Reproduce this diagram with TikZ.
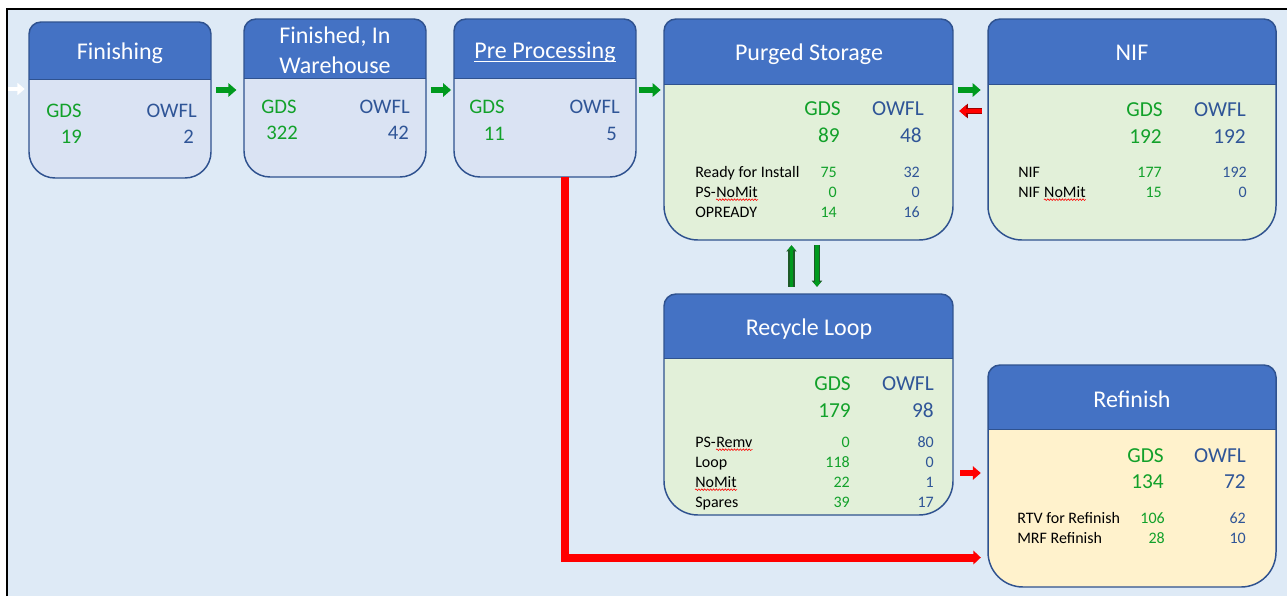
\documentclass[tikz,border=0pt]{standalone}
\usepackage{fontspec}
\setmainfont{Carlito}
\usetikzlibrary{arrows.meta,decorations.pathmorphing,fit,calc}

\definecolor{pagebg}{HTML}{DEEAF6}
\definecolor{hdr}{HTML}{4472C4}
\definecolor{edge}{HTML}{2F528F}
\definecolor{bodyblue}{HTML}{DAE3F3}
\definecolor{bodygreen}{HTML}{E2F0D9}
\definecolor{bodyyellow}{HTML}{FFF2CC}
\definecolor{gdsgreen}{HTML}{12A12A}
\definecolor{owflblue}{HTML}{2F5597}
\definecolor{flowgreen}{HTML}{009A1E}
\definecolor{flowgreendark}{HTML}{1E5A28}
\definecolor{flowred}{HTML}{FF0000}
\definecolor{flowreddark}{HTML}{A00000}

% A status box: #1 name, #2 left, #3 top, #4 right, #5 bottom,
% #6 bottom of the header band, #7 top radius, #8 bottom radius, #9 body fill.
% Values are pixels, y measured downwards.
\newcommand\statbox[9]{%
  \def\boxoutline{(#2,{-#3-#7}) -- (#2,{-#5+#8})
    arc[start angle=180,end angle=270,radius=#8] -- ({#4-#8},-#5)
    arc[start angle=270,end angle=360,radius=#8] -- (#4,{-#3-#7})
    arc[start angle=0,end angle=90,radius=#7] -- ({#2+#7},-#3)
    arc[start angle=90,end angle=180,radius=#7] -- cycle}%
  \fill[#9] \boxoutline;
  \begin{scope}
    \clip \boxoutline;
    \fill[hdr] (#2,-#3) rectangle (#4,-#6);
  \end{scope}
  \draw[edge, line width=0.6pt] (#2,-#6) -- (#4,-#6);
  \draw[edge, line width=1.1pt] \boxoutline;
  \node[fit={(#2,-#3)(#4,-#5)}, inner sep=0pt] (#1) {};
}

\tikzset{
  ttl/.style={text=white, font=\fontsize{18}{21}\selectfont, anchor=base, inner sep=0pt},
  hdsmall/.style={font=\fontsize{15.5}{18}\selectfont, inner sep=0pt},
  hdbig/.style={font=\fontsize{16}{19}\selectfont, inner sep=0pt},
  gcol/.style={text=gdsgreen},
  ocol/.style={text=owflblue},
  rowlabel/.style={font=\fontsize{12}{14}\selectfont, inner sep=0pt, anchor=base west, text=black},
  rowg/.style={font=\fontsize{12}{14}\selectfont, inner sep=0pt, anchor=base east, text=gdsgreen},
  rowo/.style={font=\fontsize{12}{14}\selectfont, inner sep=0pt, anchor=base east, text=owflblue},
  squig/.style={draw=red, line width=0.45pt, decorate,
    decoration={snake, amplitude=0.6pt, segment length=2.2pt}},
  blockarrow/.style={line width=3.9pt, -{Triangle[length=6pt,width=10pt]}},
  garrow/.style={blockarrow, draw=flowgreen},
  rarrow/.style={blockarrow, draw=flowred},
  rarrowout/.style={draw=flowred, line width=3.4pt, -{Triangle[length=5.2pt,width=8.4pt]},
    preaction={draw=flowreddark, line width=5pt, -{Triangle[length=6.4pt,width=10.5pt]}}},
  warrow/.style={draw=white, line width=3.6pt, -{Triangle[length=5.5pt,width=9pt]}},
  varrow/.style={draw=flowgreen, line width=2.8pt, -{Triangle[length=3.6pt,width=5.6pt]},
    preaction={draw=flowgreendark, line width=4.6pt, -{Triangle[length=4.6pt,width=7.6pt]}}},
  bigred/.style={draw=flowred, line width=6pt, line join=miter,
    -{Triangle[length=5.5pt,width=10pt]}},
}

\begin{document}
\begin{tikzpicture}[x=0.75pt, y=0.75pt]
  % page, backdrop and frame
  \useasboundingbox (0,0) rectangle (1287,-596);
  \fill[white] (0,0) rectangle (1287,-596);
  \fill[pagebg] (7,-9) rectangle (1287,-596);
  \draw[black, line width=2.2pt] (7,-596) -- (7,-9) -- (1287,-9);

  % boxes
  \statbox{fin}{29}{22}{211}{178}{79}{12}{26}{bodyblue}
  \statbox{wh}{244}{19}{426}{177}{78}{12}{26}{bodyblue}
  \statbox{pp}{454}{19}{636}{177}{78}{12}{26}{bodyblue}
  \statbox{ps}{664}{19}{953}{240}{84}{12}{34}{bodygreen}
  \statbox{nif}{988}{19}{1276}{240}{84}{12}{34}{bodygreen}
  \statbox{rl}{664}{294}{953}{515}{358}{12}{34}{bodygreen}
  \statbox{ref}{988}{365}{1276}{587}{429}{12}{35}{bodyyellow}

  % Finishing
  \node[ttl] (fin-t) at (120,-59) {Finishing};
  \node[hdsmall, gcol, anchor=base west] (fin-g) at (46,-117) {GDS};
  \node[hdsmall, ocol, anchor=base east] (fin-o) at (197,-117) {OWFL};
  \node[hdsmall, gcol, anchor=base east] (fin-gn) at (82,-143) {19};
  \node[hdsmall, ocol, anchor=base east] (fin-on) at (194,-143) {2};

  % Finished, In Warehouse
  \node[ttl] (wh-t1) at (335,-43) {Finished, In};
  \node[ttl] (wh-t2) at (335,-73) {Warehouse};
  \node[hdsmall, gcol, anchor=base west] (wh-g) at (261,-113) {GDS};
  \node[hdsmall, ocol, anchor=base east] (wh-o) at (410,-113) {OWFL};
  \node[hdsmall, gcol, anchor=base east] (wh-gn) at (298,-139) {322};
  \node[hdsmall, ocol, anchor=base east] (wh-on) at (409,-139) {42};

  % Pre Processing
  \node[ttl] (pp-t) at (545,-58) {Pre Processing};
  \draw[white, line width=1.1pt] ([yshift=-2.6pt]pp-t.base west) -- ([yshift=-2.6pt]pp-t.base east);
  \node[hdsmall, gcol, anchor=base west] (pp-g) at (469,-113) {GDS};
  \node[hdsmall, ocol, anchor=base east] (pp-o) at (620,-113) {OWFL};
  \node[hdsmall, gcol, anchor=base east] (pp-gn) at (505,-140) {11};
  \node[hdsmall, ocol, anchor=base east] (pp-on) at (617,-140) {5};

  % Purged Storage
  \node[ttl] (ps-t) at (809,-60) {Purged Storage};
  \node[hdbig, gcol, anchor=base east] (ps-g) at (841,-115) {GDS};
  \node[hdbig, ocol, anchor=base east] (ps-o) at (924,-115) {OWFL};
  \node[hdbig, gcol, anchor=base east] (ps-gn) at (840,-142) {89};
  \node[hdbig, ocol, anchor=base east] (ps-on) at (922,-142) {48};
  \node[rowlabel] (ps-l1) at (695,-177) {Ready for Install};
  \node[rowg] (ps-g1) at (837,-177) {75};
  \node[rowo] (ps-o1) at (920,-177) {32};
  \node[rowlabel] (ps-l2) at (695,-197) {PS-};
  \node[rowlabel] (ps-l2b) at (ps-l2.base east) {NoMit};
  \draw[squig] ([yshift=-2pt]ps-l2b.base west) -- ([yshift=-2pt]ps-l2b.base east);
  \node[rowg] (ps-g2) at (837,-197) {0};
  \node[rowo] (ps-o2) at (920,-197) {0};
  \node[rowlabel] (ps-l3) at (695,-217) {OPREADY};
  \node[rowg] (ps-g3) at (837,-217) {14};
  \node[rowo] (ps-o3) at (920,-217) {16};

  % NIF
  \node[ttl] (nif-t) at (1132,-60) {NIF};
  \node[hdbig, gcol, anchor=base east] (nif-g) at (1163,-116) {GDS};
  \node[hdbig, ocol, anchor=base east] (nif-o) at (1246,-116) {OWFL};
  \node[hdbig, gcol, anchor=base east] (nif-gn) at (1162,-143) {192};
  \node[hdbig, ocol, anchor=base east] (nif-on) at (1246,-143) {192};
  \node[rowlabel] (nif-l1) at (1018,-177) {NIF};
  \node[rowg] (nif-g1) at (1162,-177) {177};
  \node[rowo] (nif-o1) at (1247,-177) {192};
  \node[rowlabel] (nif-l2) at (1018,-197) {NIF\kern0.23em};
  \node[rowlabel] (nif-l2b) at (nif-l2.base east) {NoMit};
  \draw[squig] ([yshift=-2pt]nif-l2b.base west) -- ([yshift=-2pt]nif-l2b.base east);
  \node[rowg] (nif-g2) at (1162,-197) {15};
  \node[rowo] (nif-o2) at (1247,-197) {0};

  % Recycle Loop
  \node[ttl] (rl-t) at (809,-335) {Recycle Loop};
  \node[hdbig, gcol, anchor=base east] (rl-g) at (851,-390) {GDS};
  \node[hdbig, ocol, anchor=base east] (rl-o) at (934,-390) {OWFL};
  \node[hdbig, gcol, anchor=base east] (rl-gn) at (851,-417) {179};
  \node[hdbig, ocol, anchor=base east] (rl-on) at (934,-417) {98};
  \node[rowlabel] (rl-l1) at (695,-447) {PS-};
  \node[rowlabel] (rl-l1b) at (rl-l1.base east) {Remv};
  \draw[squig] ([yshift=-2pt]rl-l1b.base west) -- ([yshift=-2pt]rl-l1b.base east);
  \node[rowg] (rl-g1) at (850,-447) {0};
  \node[rowo] (rl-o1) at (934,-447) {80};
  \node[rowlabel] (rl-l2) at (695,-467) {Loop};
  \node[rowg] (rl-g2) at (850,-467) {118};
  \node[rowo] (rl-o2) at (934,-467) {0};
  \node[rowlabel] (rl-l3) at (695,-487) {NoMit};
  \draw[squig] ([yshift=-2pt]rl-l3.base west) -- ([yshift=-2pt]rl-l3.base east);
  \node[rowg] (rl-g3) at (850,-487) {22};
  \node[rowo] (rl-o3) at (934,-487) {1};
  \node[rowlabel] (rl-l4) at (695,-507) {Spares};
  \node[rowg] (rl-g4) at (850,-507) {39};
  \node[rowo] (rl-o4) at (934,-507) {17};

  % Refinish
  \node[ttl] (ref-t) at (1132,-407) {Refinish};
  \node[hdbig, gcol, anchor=base east] (ref-g) at (1164,-462) {GDS};
  \node[hdbig, ocol, anchor=base east] (ref-o) at (1246,-462) {OWFL};
  \node[hdbig, gcol, anchor=base east] (ref-gn) at (1164,-488) {134};
  \node[hdbig, ocol, anchor=base east] (ref-on) at (1246,-488) {72};
  \node[rowlabel] (ref-l1) at (1017,-523) {RTV for Refinish};
  \node[rowg] (ref-g1) at (1165,-523) {106};
  \node[rowo] (ref-o1) at (1246,-523) {62};
  \node[rowlabel] (ref-l2) at (1017,-543) {MRF Refinish};
  \node[rowg] (ref-g2) at (1165,-543) {28};
  \node[rowo] (ref-o2) at (1246,-543) {10};

  % flow connectors
  \coordinate (flowrow) at (0,-90);
  \coordinate (backrow) at (0,-111);
  \coordinate (refrow) at (0,-473);
  \coordinate (lowrow) at (0,-557.5);
  \coordinate (upcol) at (791.5,0);
  \coordinate (downcol) at (817,0);
  \coordinate (redcol) at (565,0);
  \coordinate (inlet) at (8,-89);

  \draw[warrow] (inlet) -- ([xshift=-3pt]fin.west |- inlet);
  \draw[garrow, shorten <=3.5pt, shorten >=5.5pt] (fin.east |- flowrow) -- (wh.west |- flowrow);
  \draw[garrow, shorten <=3.5pt, shorten >=2pt] (wh.east |- flowrow) -- (pp.west |- flowrow);
  \draw[garrow, shorten <=1.8pt, shorten >=2.3pt] (pp.east |- flowrow) -- (ps.west |- flowrow);
  \draw[garrow, shorten <=3.8pt, shorten >=5.3pt] (ps.east |- flowrow) -- (nif.west |- flowrow);
  \draw[rarrowout, shorten <=4.5pt, shorten >=4.5pt] (nif.west |- backrow) -- (ps.east |- backrow);
  \draw[varrow, shorten <=5.2pt, shorten >=3.8pt] (rl.north -| upcol) -- (ps.south -| upcol);
  \draw[varrow, shorten <=3.8pt, shorten >=5.2pt] (ps.south -| downcol) -- (rl.north -| downcol);
  \draw[rarrow, shorten <=5.2pt, shorten >=5.2pt] (rl.east |- refrow) -- (ref.west |- refrow);
  \draw[bigred, shorten >=5.2pt] (pp.south -| redcol) |- (ref.west |- lowrow);
\end{tikzpicture}
\end{document}
